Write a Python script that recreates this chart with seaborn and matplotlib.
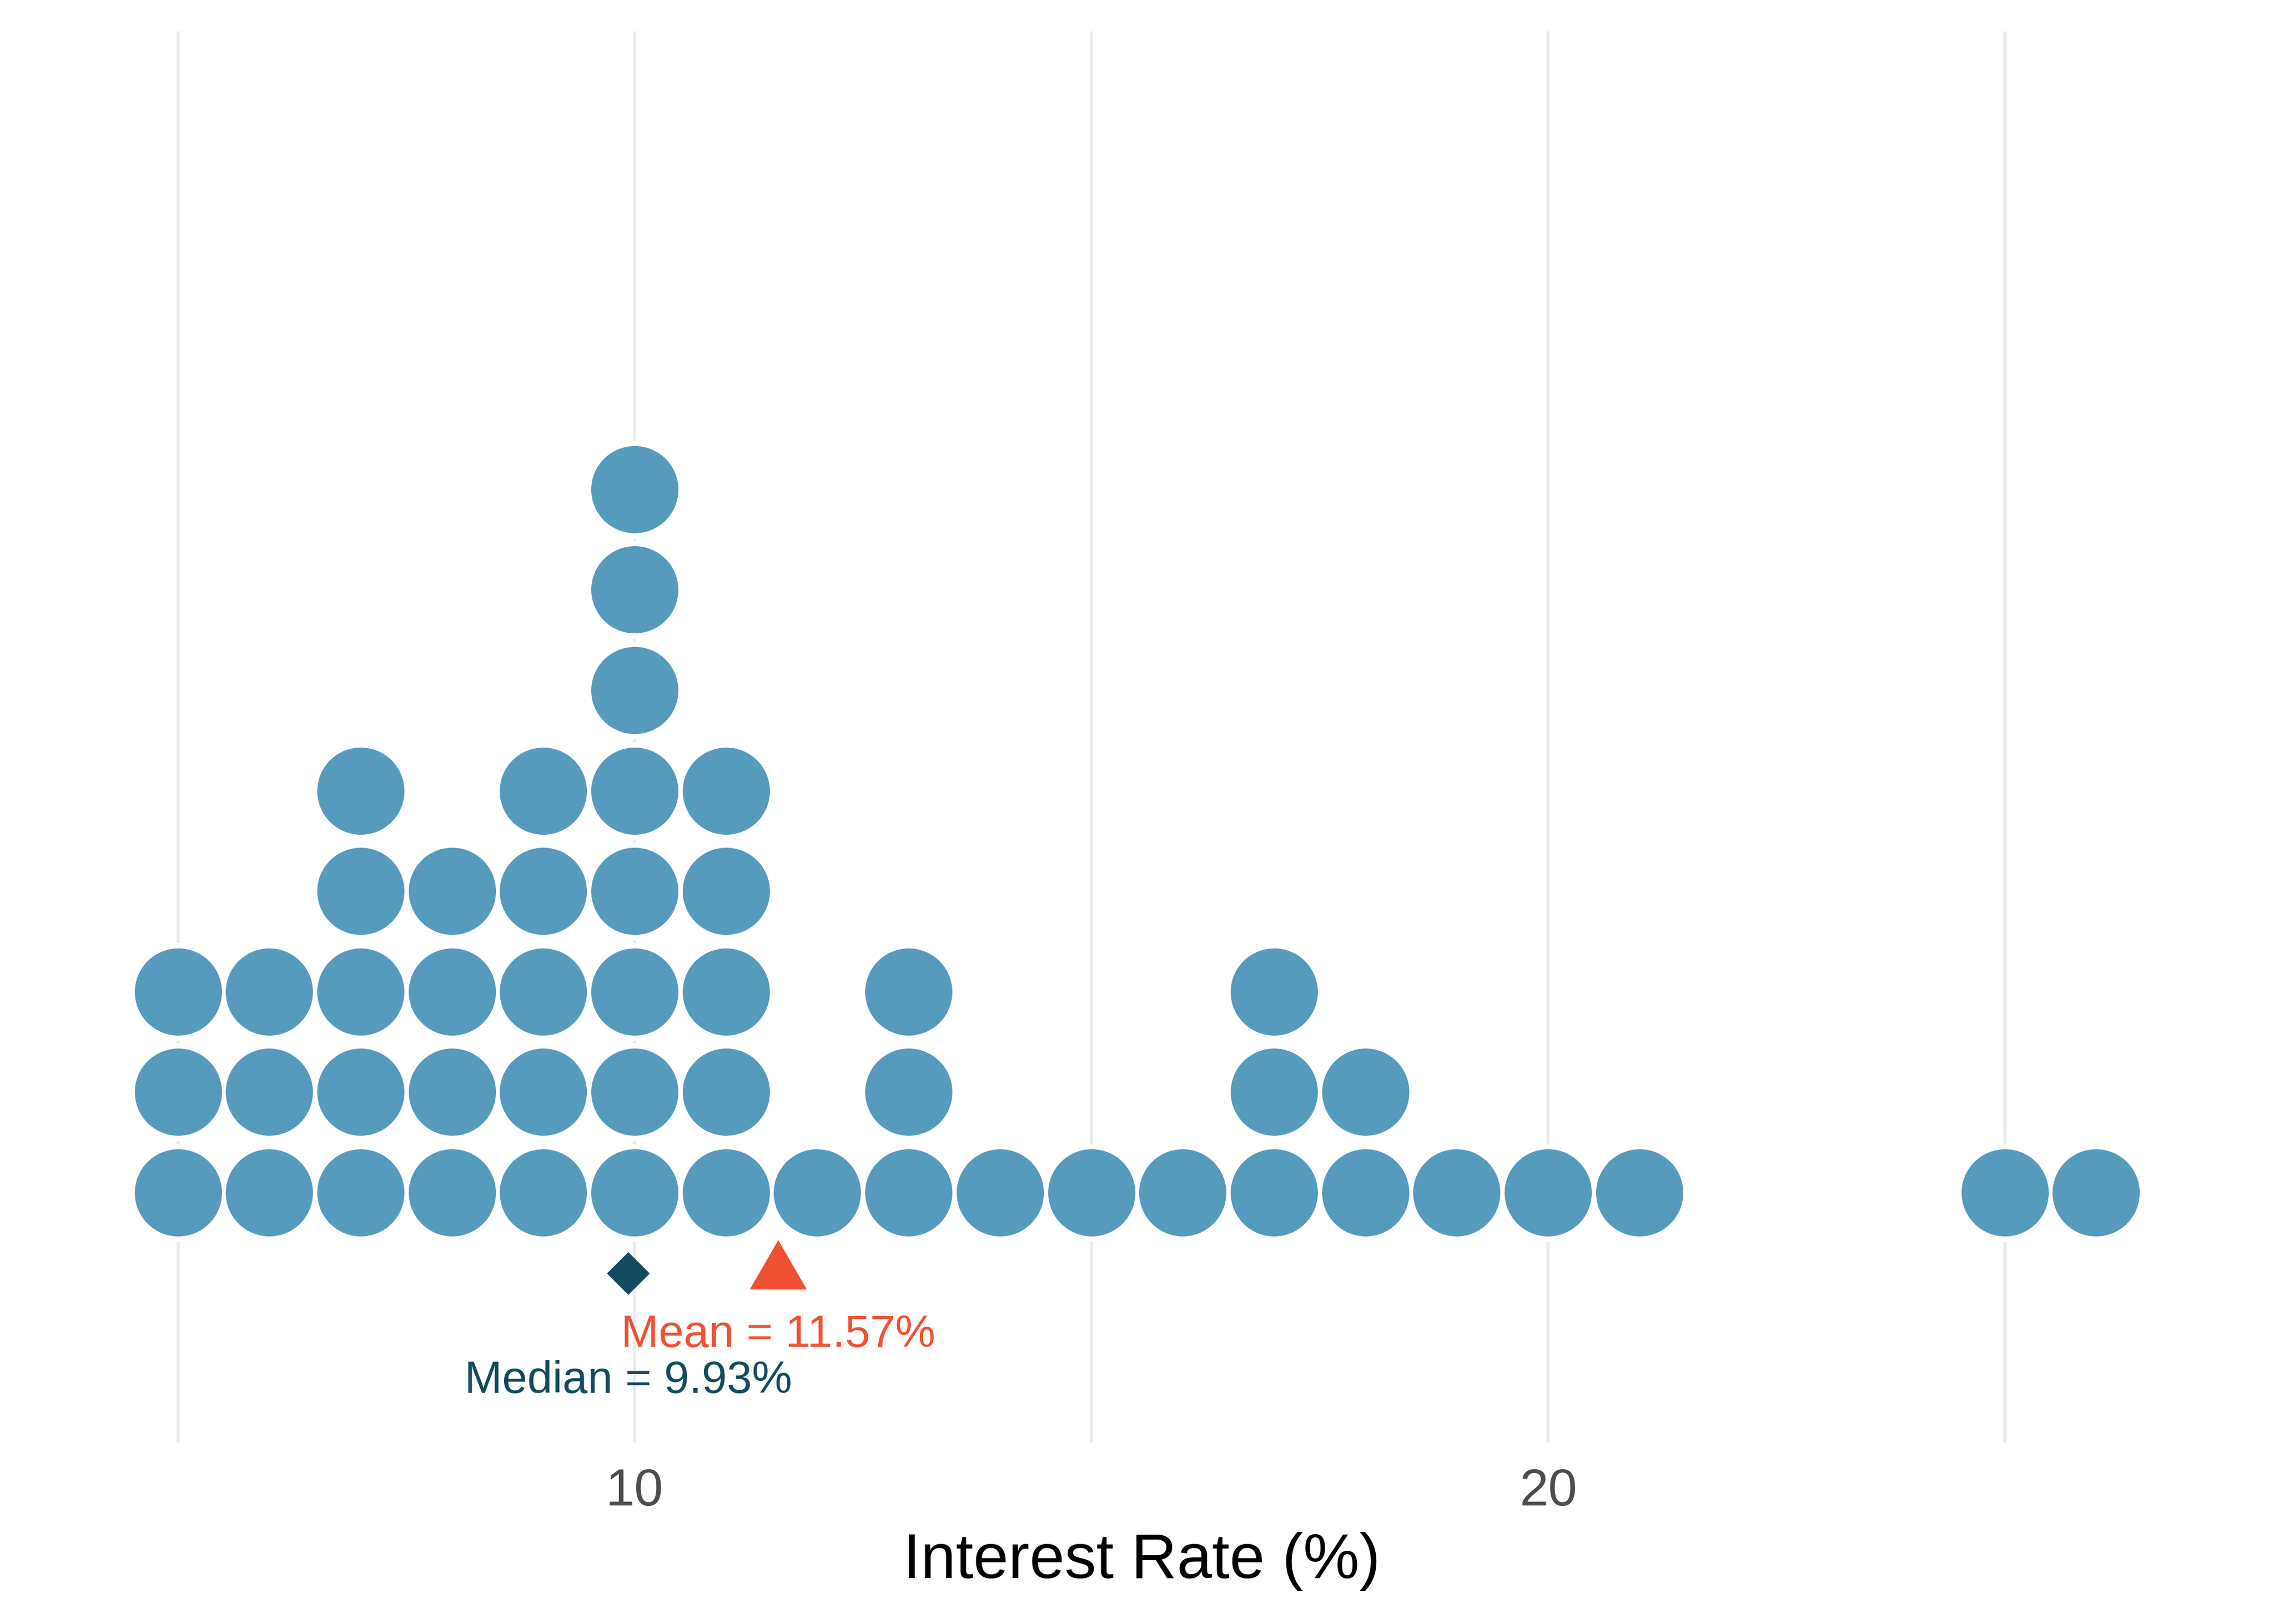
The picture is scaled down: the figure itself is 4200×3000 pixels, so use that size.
import numpy as np
import pandas as pd
import matplotlib
matplotlib.use("Agg")
import matplotlib.pyplot as plt
import seaborn as sns
from matplotlib.path import Path

# ---- data (binned interest rates, %) ----
rates = [5, 6, 7, 8, 9, 10, 11, 12, 13, 14, 15, 16, 17, 18, 19, 20, 21, 25, 26]
counts = [3, 3, 5, 4, 5, 8, 5, 1, 3, 1, 1, 1, 3, 2, 1, 1, 1, 1, 1]
mean_rate = 11.57
median_rate = 9.93
grid_breaks = [5, 10, 15, 20, 25]
grid_labels = ["", "10", "", "20", ""]
x_title = "Interest Rate (%)"

df = pd.DataFrame({
    "rate": np.repeat(rates, counts),
    "stack": np.concatenate([np.arange(1, c + 1) for c in counts]),
})

# ---- style ----
sns.set_theme(style="white")
plt.rcParams['font.family'] = ['Liberation Sans', 'DejaVu Sans']

DOT = "#569BBD"
RED = "#F05133"
DARK = "#124B5F"

fig = plt.figure(figsize=(14, 10), dpi=300)
ax = fig.add_axes([18 / 4200, 1 - 2665 / 3000, 1 - 18 / 4200, (2665 - 58) / 3000])
ax.set_xlim(3.159, 27.949)
ax.set_ylim(-1.489, 12.557)

px2pt = 72 / 300
# white halo under dots (gives the gap to gridlines)
sns.scatterplot(data=df, x="rate", y="stack", ax=ax, color="white",
                s=(181 * px2pt) ** 2, linewidth=0, legend=False, zorder=2)
sns.scatterplot(data=df, x="rate", y="stack", ax=ax, color=DOT,
                s=(161 * px2pt) ** 2, linewidth=0, legend=False, zorder=3)

# median diamond and mean triangle
ax.scatter([median_rate], [0.197], marker="D", s=(55.9 * px2pt) ** 2,
           color=DARK, linewidth=0, zorder=4)
tri = Path([(-1, -0.866), (1, -0.866), (0, 0.866), (-1, -0.866)],
           [Path.MOVETO, Path.LINETO, Path.LINETO, Path.CLOSEPOLY])
ax.scatter([mean_rate], [0.281], marker=tri, s=(105.5 * px2pt) ** 2,
           color=RED, linewidth=0, zorder=4)

ax.text(mean_rate, -0.533, f"Mean = {mean_rate:.2f}%", color=RED,
        fontsize=20, ha="center", va="baseline", zorder=5)
ax.text(median_rate, -0.994, f"Median = {median_rate:.2f}%", color=DARK,
        fontsize=20, ha="center", va="baseline", zorder=5)

# axes styling
ax.set_xticks(grid_breaks)
ax.set_xticklabels(grid_labels)
ax.set_yticks([])
ax.set_ylabel("")
ax.set_xlabel(x_title, fontsize=28, color="black", labelpad=7)
ax.tick_params(axis="x", length=0, pad=11, labelsize=23, labelcolor="#4D4D4D")
ax.grid(axis="x", color="#EBEBEB", linewidth=6 * px2pt, zorder=0)
ax.set_axisbelow(True)
for sp in ax.spines.values():
    sp.set_visible(False)
ax.set_facecolor("white")

fig.savefig("out.png", dpi=300, facecolor="white")
